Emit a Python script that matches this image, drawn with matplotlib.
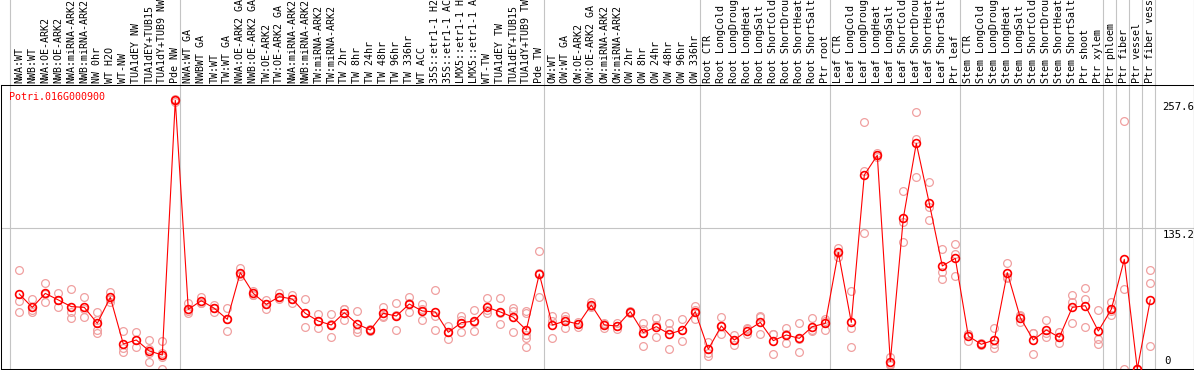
import matplotlib
matplotlib.use("Agg")
import matplotlib.pyplot as plt
from matplotlib.transforms import blended_transform_factory
from matplotlib.lines import Line2D

# ---------------- data ----------------
gene_id = "Potri.016G000900"

categories = [
    "NWA:WT", "NWB:WT", "NWA:OE-ARK2", "NWB:OE-ARK2", "NWA:miRNA-ARK2", "NWB:miRNA-ARK2",
    "NW 0hr", "WT H2O", "WT-NW", "TUA1dEY NW", "TUA1dEY+TUB15", "TUA1dY+TUB9 NW", "Pde NW",
    "NWA:WT GA", "NWBWT GA", "TW:WT", "TW:WT GA", "NWA:OE-ARK2 GA", "NWB:OE-ARK2 GA",
    "TW:OE-ARK2", "TW:OE-ARK2 GA", "NWA:miRNA-ARK2", "NWB:miRNA-ARK2", "TW:miRNA-ARK2",
    "TW:miRNA-ARK2", "TW 2hr", "TW 8hr", "TW 24hr", "TW 48hr", "TW 96hr", "TW 336hr",
    "WT ACC", "35S::etr1-1 H2O", "35S::etr1-1 ACC", "LMX5::etr1-1 H2O", "LMX5::etr1-1 ACC",
    "WT-TW", "TUA1dEY TW", "TUA1dEY+TUB15", "TUA1dY+TUB9 TW", "Pde TW",
    "OW:WT", "OW:WT GA", "OW:OE-ARK2", "OW:OE-ARK2 GA", "OW:miRNA-ARK2", "OW:miRNA-ARK2",
    "OW 2hr", "OW 8hr", "OW 24hr", "OW 48hr", "OW 96hr", "OW 336hr",
    "Root CTR", "Root LongCold", "Root LongDrought", "Root LongHeat", "Root LongSalt",
    "Root ShortCold", "Root ShortDrought", "Root ShortHeat", "Root ShortSalt", "Ptr root",
    "Leaf CTR", "Leaf LongCold", "Leaf LongDrought", "Leaf LongHeat", "Leaf LongSalt",
    "Leaf ShortCold", "Leaf ShortDrought", "Leaf ShortHeat", "Leaf ShortSalt", "Ptr leaf",
    "Stem CTR", "Stem LongCold", "Stem LongDrought", "Stem LongHeat", "Stem LongSalt",
    "Stem ShortCold", "Stem ShortDrought", "Stem ShortHeat", "Stem ShortSalt", "Ptr shoot",
    "Ptr xylem",
    "Ptr phloem", "Ptr fiber", "Ptr vessel", "Ptr fiber vessel",
]

# index of the last category of each group
group_ends = [12, 40, 52, 62, 72, 83, 84, 85, 86, 87]

means = [
    71.9, 59.1, 72.5, 66.2, 59.8, 59.1, 43.8, 68.7, 24.0, 27.8, 17.3, 13.4, 257.6,
    57.2, 65.5, 58.2, 47.6, 92.4, 72.5, 62.0, 69.4, 67.1, 53.4, 46.0, 42.2, 54.0, 43.1,
    37.4, 53.4, 50.8, 62.3, 55.6, 54.7, 35.2, 44.4, 46.0, 59.1, 54.7, 49.6, 37.4, 91.1,
    42.2, 46.0, 43.1, 61.4, 42.2, 41.3, 55.0, 34.9, 40.6, 33.6, 37.4, 55.0,
    18.9, 41.3, 27.8, 36.8, 44.7, 27.2, 32.6, 29.4, 40.6, 43.8,
    111.9, 44.7, 186.0, 204.9, 7.0, 144.5, 216.4, 158.8, 98.8, 106.1,
    31.6, 23.7, 27.8, 92.4, 49.2, 27.8, 37.4, 30.4, 59.1, 60.7, 36.4,
    57.2, 105.1, 0.0, 66.2,
]

replicates = [
    [94.6, 65.5, 54.3], [66.8, 56.2, 54.3], [82.1, 71.5, 63.9], [72.9, 66.6, 59.1],
    [76.4, 54.4, 48.6], [69.4, 57.7, 50.2], [55.0, 47.0, 37.4, 34.9], [74.2, 67.5, 64.4],
    [36.8, 19.8, 16.6], [35.2, 27.4, 20.8], [27.8, 19.0, 15.0, 7.0], [27.2, 15.0, 11.8, 0.0],
    [256.0, 257.6, 259.2],
    [63.0, 55.2, 53.4], [69.4, 63.5, 63.6], [61.4, 58.2, 55.0], [58.2, 47.8, 36.8],
    [96.5, 91.5, 89.2], [75.1, 71.4, 71.0], [66.2, 62.6, 57.2], [72.5, 68.9, 66.8],
    [71.0, 67.3, 63.0], [66.8, 53.4, 40.0], [52.7, 46.3, 39.0], [52.7, 42.9, 31.0],
    [57.9, 57.1, 47.0], [55.6, 37.9, 35.8], [38.5, 37.4, 36.3], [59.8, 50.8, 49.6],
    [63.6, 51.4, 37.4], [68.7, 63.3, 55.0], [62.0, 57.8, 47.0], [75.8, 50.8, 37.4],
    [41.6, 35.6, 28.4], [50.8, 46.9, 35.5], [56.6, 45.5, 36.0], [67.7, 56.3, 53.4],
    [67.7, 53.6, 42.8], [58.2, 55.9, 35.2], [55.6, 53.4, 32.6, 29.4, 20.8],
    [112.8, 91.8, 68.7],
    [50.8, 46.4, 29.4], [50.8, 47.6, 39.6], [45.4, 43.3, 40.6], [63.9, 60.5, 59.8],
    [44.4, 43.2, 39.0], [44.4, 41.2, 38.3], [56.0, 55.0, 54.0], [43.8, 38.8, 22.1],
    [48.6, 42.5, 30.7], [43.8, 37.8, 19.2], [47.9, 37.5, 26.8], [60.4, 56.7, 47.9],
    [26.2, 15.0, 12.8], [49.6, 41.1, 33.2], [32.6, 28.1, 22.7], [39.0, 38.2, 33.2],
    [50.8, 50.1, 33.2], [33.6, 33.9, 14.1], [39.3, 33.9, 24.6], [43.8, 28.4, 16.0],
    [48.6, 37.1, 36.1], [48.3, 45.7, 37.4],
    [116.4, 111.6, 107.7], [74.5, 39.0, 21.4], [236.5, 189.9, 130.7], [206.8, 205.0, 203.0],
    [11.8, 4.8, 3.5], [170.7, 141.4, 121.4], [246.1, 220.2, 183.8], [179.0, 155.0, 142.9],
    [114.7, 93.3, 86.0], [119.5, 110.0, 89.2],
    [34.0, 33.6, 27.2], [24.6, 23.8, 22.7], [39.0, 24.0, 20.5], [101.3, 88.5, 87.4],
    [51.8, 51.1, 44.7], [34.9, 34.4, 14.1], [47.0, 34.2, 31.0], [35.8, 30.8, 24.6],
    [71.0, 64.6, 43.8], [77.3, 66.8, 40.6], [56.6, 28.4, 24.0],
    [64.2, 55.9, 51.5], [238.1, 76.4, 0.0], [0.0, 0.0, 0.0], [94.6, 82.1, 22.1],
]

ytick_values = [0, 135.2, 257.6]
grid_value = 135.2

# ---------------- layout ----------------
W, H = 1194, 370
PLOT_TOP, PLOT_BOTTOM = 85, 369          # pixel rows of the plot frame
LEFT_PX, RIGHT_PX = 0.5, 1193.5
X0_PX, STEP_PX = 19.3, 13.0              # pixel of first category, spacing
PX_PER_UNIT = 1.0429

MONO = "DejaVu Sans Mono"
FS = 7.2
RED = "#ff0000"
PINK = "#f0a0a0"
GRAY = "#c4c4c4"

fig = plt.figure(figsize=(W / 100, H / 100), dpi=100)
fig.patch.set_facecolor("white")
ax = fig.add_axes([LEFT_PX / W, (H - PLOT_BOTTOM) / H,
                   (RIGHT_PX - LEFT_PX) / W, (PLOT_BOTTOM - PLOT_TOP) / H])
ax.set_xlim((LEFT_PX - X0_PX) / STEP_PX, (RIGHT_PX - X0_PX) / STEP_PX)
ax.set_ylim(0, (PLOT_BOTTOM - PLOT_TOP) / PX_PER_UNIT)
ax.set_xticks([])
ax.set_yticks([])
for s in ax.spines.values():
    s.set_color("black")
    s.set_linewidth(0.75)

plot_h = PLOT_BOTTOM - PLOT_TOP
top_ext = 1 + PLOT_TOP / plot_h  # axes fraction reaching the figure top

# group separators (spanning the header too)
seps = [-9.3 / STEP_PX] + [g + 5.0 / STEP_PX for g in group_ends]
for sx in seps:
    ax.axvline(sx, ymin=0, ymax=top_ext, color=GRAY, lw=0.8, clip_on=False, zorder=1)

# right frame line through header
fig.add_artist(Line2D([RIGHT_PX / W, RIGHT_PX / W], [0, 1], color="black", lw=0.75))

# horizontal grid line
ax.axhline(grid_value, color=GRAY, lw=0.8, zorder=1)

# replicate points
idx = list(range(len(categories)))
rx, ry = [], []
for i, reps in enumerate(replicates):
    for v in reps:
        rx.append(i)
        ry.append(v)
ax.plot(rx, ry, linestyle="none", marker="o", ms=5.6, mfc="none", mec=PINK, mew=0.9, zorder=2)

# mean line and points
ax.plot(idx, means, color=RED, lw=0.8, zorder=3)
ax.plot(idx, means, linestyle="none", marker="o", ms=5.6, mfc="none", mec=RED, mew=1.2, zorder=4)

# header labels
tr_xh = blended_transform_factory(ax.transData, ax.transAxes)
for i, c in enumerate(categories):
    ax.text(i, 1 + 2.0 / plot_h, c, transform=tr_xh, rotation=90, ha="center", va="bottom",
            fontsize=FS, family=MONO, color="black", clip_on=False)

# title
ax.text((9.5 - LEFT_PX) / (RIGHT_PX - LEFT_PX), 1 - 6.5 / plot_h, gene_id, transform=ax.transAxes,
        ha="left", va="top", fontsize=FS, family=MONO, color=RED)

# y labels at right
tr_yv = blended_transform_factory(ax.transAxes, ax.transData)
lab_x = (1162.5 - LEFT_PX) / (RIGHT_PX - LEFT_PX)
for v in ytick_values:
    txt = ("%g" % v)
    if v == 0:
        ax.annotate(txt, xy=(lab_x + 2 / 1193, v), xycoords=tr_yv, xytext=(0, 2.5),
                    textcoords="offset points", ha="left", va="bottom",
                    fontsize=FS + 0.5, family=MONO, annotation_clip=False)
    else:
        ax.annotate(txt, xy=(lab_x, v), xycoords=tr_yv, xytext=(0, -1.5),
                    textcoords="offset points", ha="left", va="top",
                    fontsize=FS + 0.5, family=MONO, annotation_clip=False)

fig.savefig("out.png", dpi=100, facecolor="white")
